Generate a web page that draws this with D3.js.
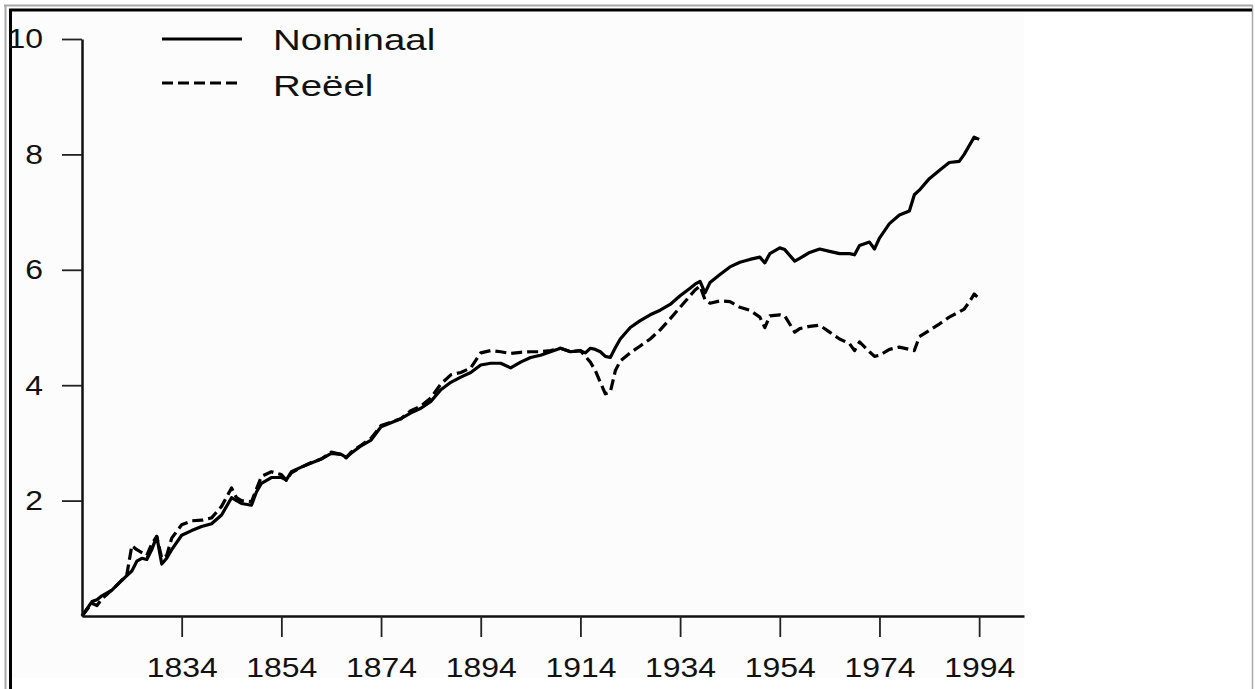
<!DOCTYPE html>
<html>
<head>
<meta charset="utf-8">
<script src="https://cdn.jsdelivr.net/npm/d3@7"></script>
<style>
  html, body { margin: 0; padding: 0; background: #ffffff; }
  svg { display: block; }
  text { font-family: "Liberation Sans", Arial, Helvetica, sans-serif; fill: #111; }
</style>
</head>
<body>
<svg id="chart" width="1255" height="689"></svg>
<script>
// ---- data ----
const years = [1814,1816,1817,1818,1820,1822,1823,1824,1825,1826,1827,1828,1829,1830,1831,1832,1834,1836,1838,1840,1842,1844,1845,1846,1848,1849,1850,1852,1854,1855,1856,1858,1860,1862,1864,1866,1867,1868,1870,1872,1874,1876,1878,1880,1882,1884,1886,1888,1890,1892,1894,1896,1898,1900,1902,1904,1906,1908,1910,1912,1914,1915,1916,1917,1918,1919,1920,1921,1922,1924,1926,1928,1930,1932,1934,1936,1937,1938,1939,1940,1942,1944,1946,1948,1950,1951,1952,1954,1955,1957,1958,1960,1962,1964,1966,1968,1969,1970,1972,1973,1974,1976,1978,1980,1981,1982,1984,1986,1988,1990,1991,1992,1993,1994];
const nominaal = [0,0.25,0.28,0.35,0.45,0.62,0.70,0.78,0.95,1.00,0.98,1.15,1.38,0.90,1.00,1.15,1.40,1.48,1.55,1.60,1.75,2.05,2.00,1.95,1.92,2.15,2.30,2.40,2.40,2.36,2.50,2.58,2.65,2.72,2.82,2.80,2.75,2.82,2.95,3.05,3.28,3.35,3.42,3.52,3.60,3.72,3.92,4.05,4.14,4.22,4.35,4.38,4.38,4.30,4.40,4.48,4.52,4.58,4.64,4.58,4.60,4.56,4.64,4.62,4.58,4.50,4.48,4.65,4.80,5.00,5.12,5.22,5.30,5.40,5.55,5.68,5.75,5.80,5.60,5.78,5.92,6.05,6.13,6.18,6.22,6.12,6.28,6.38,6.35,6.15,6.20,6.30,6.36,6.32,6.28,6.28,6.26,6.42,6.48,6.36,6.55,6.80,6.95,7.02,7.30,7.38,7.58,7.72,7.86,7.88,8.00,8.15,8.30,8.26];
const reeel = [0,0.22,0.18,0.30,0.45,0.62,0.72,1.22,1.15,1.10,1.05,1.25,1.38,1.00,1.05,1.35,1.58,1.65,1.66,1.70,1.90,2.22,2.05,2.00,1.98,2.20,2.42,2.50,2.45,2.35,2.48,2.58,2.66,2.72,2.84,2.80,2.74,2.84,2.96,3.08,3.30,3.36,3.42,3.56,3.64,3.78,4.02,4.18,4.22,4.30,4.56,4.60,4.58,4.55,4.57,4.58,4.58,4.60,4.64,4.58,4.60,4.50,4.40,4.25,4.05,3.85,3.88,4.25,4.42,4.56,4.68,4.80,4.96,5.15,5.35,5.55,5.65,5.72,5.48,5.42,5.46,5.45,5.35,5.30,5.18,5.00,5.20,5.22,5.20,4.92,4.98,5.02,5.04,4.92,4.80,4.72,4.60,4.75,4.58,4.50,4.52,4.62,4.66,4.62,4.60,4.84,4.95,5.06,5.18,5.27,5.32,5.44,5.58,5.50];
const seriesNames = ["Nominaal", "Reëel"];
const xTickValues = [1834,1854,1874,1894,1914,1934,1954,1974,1994];
const yTickValues = [2,4,6,8,10];

// ---- drawing ----
const svg = d3.select("#chart");

// plot image background
svg.append("rect").attr("x", 12).attr("y", 11).attr("width", 1012).attr("height", 667).attr("fill", "#fbfcfb");

// frame (window border)
svg.append("line").attr("x1", 4).attr("x2", 1253).attr("y1", 5.5).attr("y2", 5.5).attr("stroke", "#a8a8a8").attr("stroke-width", 2);
svg.append("line").attr("x1", 5.5).attr("x2", 5.5).attr("y1", 5).attr("y2", 689).attr("stroke", "#a8a8a8").attr("stroke-width", 2);
svg.append("line").attr("x1", 1252.5).attr("x2", 1252.5).attr("y1", 5).attr("y2", 689).attr("stroke", "#a8a8a8").attr("stroke-width", 1.5);
svg.append("line").attr("x1", 9).attr("x2", 1252).attr("y1", 10).attr("y2", 10).attr("stroke", "#000").attr("stroke-width", 3);
svg.append("line").attr("x1", 10.5).attr("x2", 10.5).attr("y1", 9).attr("y2", 689).attr("stroke", "#000").attr("stroke-width", 3);

const x = d3.scaleLinear().domain([1814, 2003]).range([82, 1024]);
const y = d3.scaleLinear().domain([0, 10]).range([616, 39]);

const table = years.map((yr, i) => ({ year: yr, nom: nominaal[i], real: reeel[i] }));

const line = key => d3.line().x(d => x(d.year)).y(d => y(d[key])).curve(d3.curveLinear);

svg.append("path").datum(table).attr("d", line("real"))
  .attr("fill", "none").attr("stroke", "#000").attr("stroke-width", 3.2)
  .attr("stroke-dasharray", "11,5").attr("stroke-linejoin", "round");
svg.append("path").datum(table).attr("d", line("nom"))
  .attr("fill", "none").attr("stroke", "#000").attr("stroke-width", 3.2)
  .attr("stroke-linejoin", "round");

// axes
const xAxis = svg.append("g").attr("transform", "translate(0,616)")
  .call(d3.axisBottom(x).tickValues(xTickValues).tickFormat(d3.format("d"))
    .tickSize(21).tickSizeOuter(0).tickPadding(20));
const yAxis = svg.append("g").attr("transform", "translate(82,0)")
  .call(d3.axisLeft(y).tickValues(yTickValues).tickFormat(d3.format("d"))
    .tickSize(20).tickSizeOuter(0).tickPadding(19));

[xAxis, yAxis].forEach(g => {
  g.select(".domain").attr("stroke", "#111").attr("stroke-width", 2.5);
  g.selectAll(".tick line").attr("stroke", "#222").attr("stroke-width", 1.8);
  g.selectAll(".tick text").attr("font-size", 28).attr("fill", "#111")
    .style("font-family", "'Liberation Sans', Arial, sans-serif")
    .each(function () {
      const w = this.getComputedTextLength();
      d3.select(this).attr("textLength", w * 1.14).attr("lengthAdjust", "spacingAndGlyphs");
    });
});

// legend
const legend = svg.append("g");
seriesNames.forEach((name, i) => {
  const ly = 39 + i * 44;
  legend.append("line").attr("x1", 162).attr("x2", 242).attr("y1", ly).attr("y2", ly)
    .attr("stroke", "#000").attr("stroke-width", 3)
    .attr("stroke-dasharray", i === 1 ? "11,5" : null);
  legend.append("text").attr("x", 273).attr("y", ly + 11 + i * 2).attr("font-size", 30).text(name)
    .each(function () {
      const w = this.getComputedTextLength();
      d3.select(this).attr("textLength", w * 1.28).attr("lengthAdjust", "spacingAndGlyphs");
    });
});
</script>
</body>
</html>
